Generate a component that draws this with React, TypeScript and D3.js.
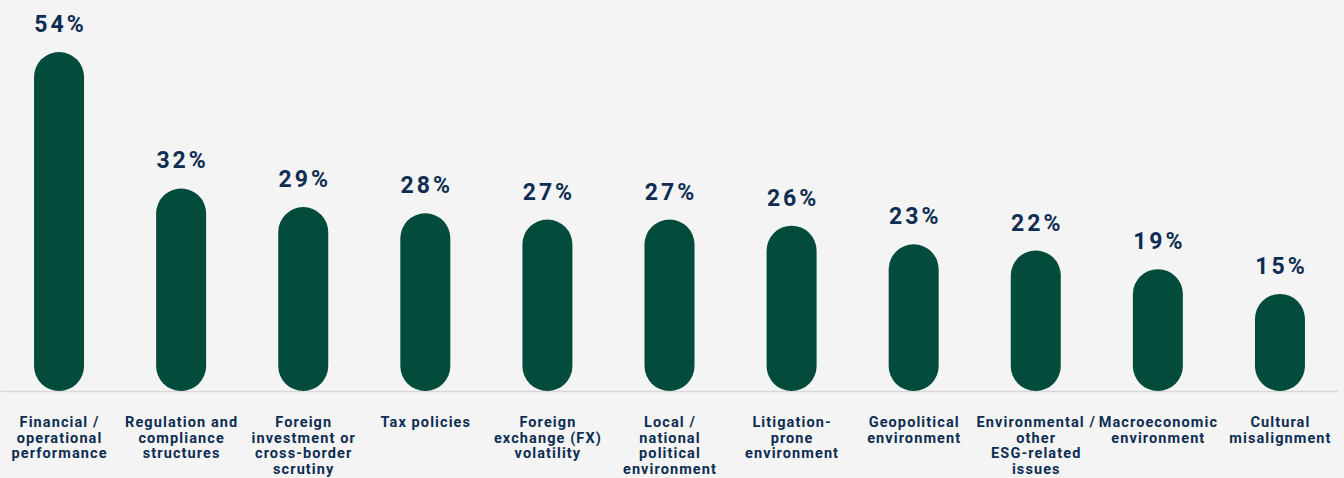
import React from "react";
import * as d3 from "d3";

const categories: string[][] = [
  ["Financial /", "operational", "performance"],
  ["Regulation and", "compliance", "structures"],
  ["Foreign", "investment or", "cross-border", "scrutiny"],
  ["Tax policies"],
  ["Foreign", "exchange (FX)", "volatility"],
  ["Local /", "national", "political", "environment"],
  ["Litigation-", "prone", "environment"],
  ["Geopolitical", "environment"],
  ["Environmental /", "other", "ESG-related", "issues"],
  ["Macroeconomic", "environment"],
  ["Cultural", "misalignment"],
];
const values: number[] = [54, 32, 29, 28, 27, 27, 26, 23, 22, 19, 15];

const W = 1344;
const H = 478;
const BAR = "#034b3b";
const NAVY = "#0e2d52";

export default function App() {
  const ids = categories.map((_, i) => String(i));
  const x = d3.scaleBand<string>().domain(ids).range([-2, 1341]).padding(0);
  const y = d3.scaleLinear().domain([0, 54]).range([387, 52]);
  const baseY = 391;
  const bw = 50;
  return (
    <div style={{ position: "absolute", left: 0, top: 0, width: W, height: H, background: "#f4f4f4" }}>
      <svg width={W} height={H} style={{ display: "block" }}>
        <rect x={0} y={0} width={W} height={H} fill="#f4f4f4" />
        <line x1={1} x2={1338} y1={baseY + 0.5} y2={baseY + 0.5} stroke="#d8d8d8" strokeWidth={1.5} />
        {values.map((v, i) => {
          const cx = (x(String(i)) as number) + x.bandwidth() / 2;
          const top = y(v);
          const h = baseY - top;
          return (
            <g key={i}>
              <rect x={cx - bw / 2} y={top} width={bw} height={h} rx={bw / 2} ry={bw / 2} fill={BAR} />
              <text
                x={cx + 1.5}
                y={top - 20}
                textAnchor="middle"
                fontFamily="Roboto, 'DejaVu Sans', sans-serif"
                fontWeight={700}
                fontSize={23}
                letterSpacing={3}
                fill={NAVY}
              >
                {v}%
              </text>
              <text
                x={cx}
                textAnchor="middle"
                fontFamily="Roboto, 'DejaVu Sans', sans-serif"
                fontWeight={700}
                fontSize={14.5}
                letterSpacing={1.1}
                fill={NAVY}
              >
                {categories[i].map((line, j) => (
                  <tspan key={j} x={cx + 0.5} y={427 + j * 15.7}>
                    {line}
                  </tspan>
                ))}
              </text>
            </g>
          );
        })}
      </svg>
    </div>
  );
}
